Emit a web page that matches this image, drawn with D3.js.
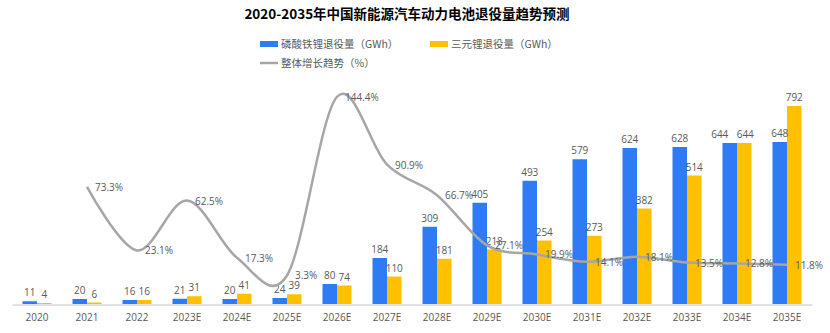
<!DOCTYPE html>
<html>
<head>
<meta charset="utf-8">
<script src="https://cdn.jsdelivr.net/npm/d3@7"></script>
<style>
  body { margin: 0; background: #fff; }
  text { font-family: "Open Sans", "Noto Sans CJK SC", sans-serif; }
</style>
</head>
<body>
<div class="chart"></div>
<script>
const years = ["2020", "2021", "2022", "2023E", "2024E", "2025E", "2026E", "2027E",
  "2028E", "2029E", "2030E", "2031E", "2032E", "2033E", "2034E", "2035E"];
const lfp = [11, 20, 16, 21, 20, 24, 80, 184, 309, 405, 493, 579, 624, 628, 644, 648];
const ncm = [4, 6, 16, 31, 41, 39, 74, 110, 181, 218, 254, 273, 382, 514, 644, 792];
const growth = [null, 73.3, 23.1, 62.5, 17.3, 3.3, 144.4, 90.9, 66.7, 27.1, 19.9, 14.1, 18.1, 13.5, 12.8, 11.8];

const width = 830, height = 333;
const blue = "#2f7bf5", yellow = "#ffc000", grey = "#a6a6a6", txt = "#595959";

const svg = d3.select(".chart").append("svg")
  .attr("width", width)
  .attr("height", height);

const x = d3.scaleBand().domain(years).range([12, 812]);
const sub = d3.scaleBand().domain(["lfp", "ncm"]).range([0, 29]);
const y = d3.scaleLinear().domain([0, 900]).range([304, 79]);
const yR = d3.scaleLinear().domain([-20, 160]).range([305, 77]);

// title
svg.append("text")
  .attr("x", 407).attr("y", 19)
  .attr("text-anchor", "middle")
  .style("font-family", "'Noto Sans CJK SC', sans-serif")
  .style("font-size", "13.5px")
  .style("font-weight", "bold")
  .style("fill", "#000")
  .text("2020-2035年中国新能源汽车动力电池退役量趋势预测");

// legend
const legend = [
  { label: "磷酸铁锂退役量（GWh）", color: blue, x: 260, y: 44, kind: "rect" },
  { label: "三元锂退役量（GWh）", color: yellow, x: 430, y: 44, kind: "rect" },
  { label: "整体增长趋势（%）", color: grey, x: 260, y: 63, kind: "line" }
];
const lg = svg.append("g").selectAll("g").data(legend).enter().append("g")
  .attr("transform", d => "translate(" + d.x + "," + d.y + ")");
lg.filter(d => d.kind == "rect").append("rect")
  .attr("x", 0).attr("y", -3).attr("width", 18).attr("height", 6)
  .style("fill", d => d.color);
lg.filter(d => d.kind == "line").append("line")
  .attr("x1", 0).attr("x2", 18).attr("y1", 0).attr("y2", 0)
  .style("stroke", d => d.color).style("stroke-width", 2.5);
lg.append("text")
  .attr("x", 21).attr("y", 4)
  .style("font-family", "'Noto Sans CJK SC', sans-serif")
  .style("font-size", "10.5px")
  .style("fill", txt)
  .text(d => d.label);

// axis
const axis = svg.append("g")
  .attr("transform", "translate(0,304.5)")
  .call(d3.axisBottom(x).tickSize(0).tickPadding(9));
axis.select(".domain").style("stroke", "#d9d9d9").style("stroke-width", 1.5);
axis.selectAll("text")
  .style("font-family", "'Open Sans', sans-serif")
  .style("font-size", "10px")
  .style("fill", txt);

// bars
const groups = svg.append("g").selectAll("g")
  .data(years.map((yr, i) => ({ yr: yr, vals: [{ k: "lfp", v: lfp[i], o: ncm[i] }, { k: "ncm", v: ncm[i], o: lfp[i] }] })))
  .enter().append("g")
  .attr("transform", d => "translate(" + (x(d.yr) + x.bandwidth() / 2 - 14.5) + ",0)");

groups.selectAll("rect")
  .data(d => d.vals)
  .enter().append("rect")
  .attr("x", d => sub(d.k))
  .attr("width", sub.bandwidth())
  .attr("y", d => y(d.v))
  .attr("height", d => y(0) - y(d.v))
  .style("fill", d => d.k == "lfp" ? blue : yellow);

// nudge the blue label left when both labels are wide and level
function nudge(d) {
  const clash = Math.abs(y(d.v) - y(d.o)) < 10 && String(d.v).length > 2;
  if (!clash) return 0;
  return d.k == "lfp" ? -10 : 1;
}

groups.selectAll("text.val")
  .data(d => d.vals)
  .enter().append("text")
  .attr("class", "val")
  .attr("x", d => sub(d.k) + sub.bandwidth() / 2 + nudge(d))
  .attr("y", d => y(d.v) - 5)
  .attr("text-anchor", "middle")
  .style("font-size", "10px")
  .style("fill", txt)
  .text(d => d.v);

// growth line
const pts = years.map((yr, i) => ({ yr: yr, g: growth[i] })).filter(d => d.g != null);
const line = d3.line()
  .x(d => x(d.yr) + x.bandwidth() / 2)
  .y(d => yR(d.g))
  .curve(d3.curveCardinal.tension(0));

svg.append("path")
  .datum(pts)
  .attr("d", line)
  .style("fill", "none")
  .style("stroke", grey)
  .style("stroke-width", 2.5);

svg.append("g").selectAll("text")
  .data(pts)
  .enter().append("text")
  .attr("x", d => x(d.yr) + x.bandwidth() / 2 + 8)
  .attr("y", d => yR(d.g) + 4)
  .style("font-size", "10px")
  .style("fill", txt)
  .text(d => d.g.toFixed(1) + "%");
</script>
</body>
</html>
